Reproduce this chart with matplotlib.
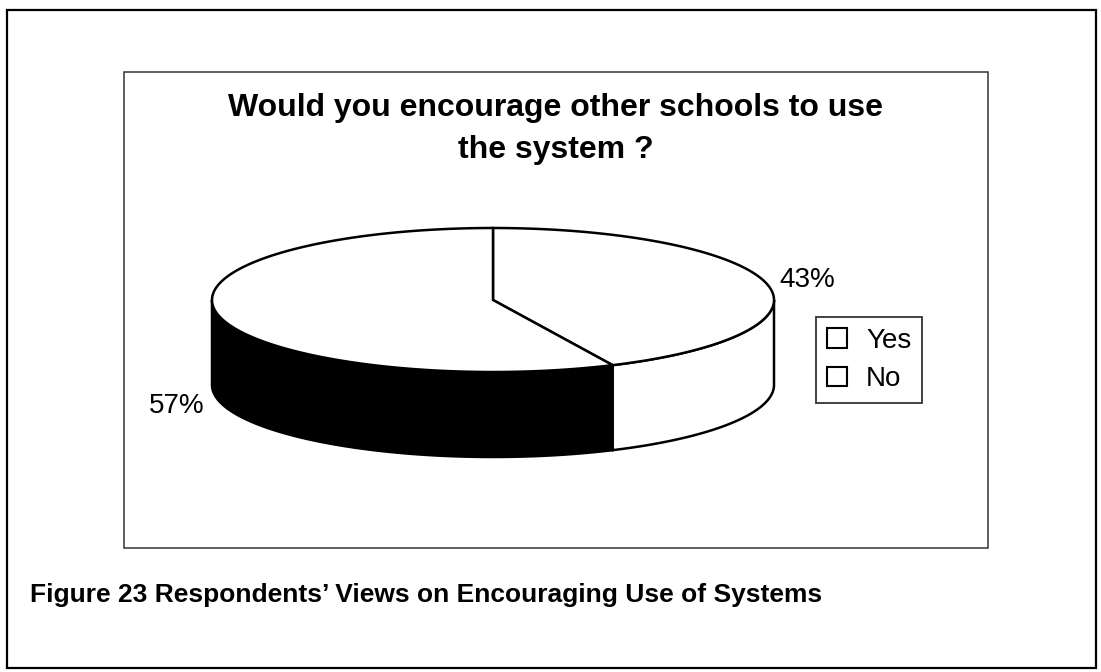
import numpy as np
import matplotlib.pyplot as plt
from matplotlib.patches import Polygon, Rectangle, Patch

plt.rcParams['font.family'] = ['Liberation Sans', 'DejaVu Sans']

# Survey answers
labels = ["Yes", "No"]
values = [43, 57]
side_colors = ["white", "black"]

title = "Would you encourage other schools to use\nthe system ?"
caption = "Figure 23 Respondents\u2019 Views on Encouraging Use of Systems"

fig = plt.figure(figsize=(11.01, 6.72), dpi=100)
ax = fig.add_axes([0, 0, 1, 1])
ax.set_xlim(0, 1101)
ax.set_ylim(672, 0)
ax.axis("off")

# page frame and chart area
ax.add_patch(Rectangle((7, 10), 1089, 658, fill=False, ec="black", lw=1.6))
ax.add_patch(Rectangle((124, 72), 864, 476, fill=False, ec="#444444", lw=1.2))

# 3d pie geometry
cx, cy = 493, 300
a, b = 281, 72
depth = 85


def ell(t):
    t = np.radians(t)
    return cx + a * np.cos(t), cy - b * np.sin(t)


fracs = np.array(values) / np.sum(values)
starts = 90 - 360 * np.concatenate([[0], np.cumsum(fracs)[:-1]])
ends = starts - 360 * fracs

# side walls, only the front half (-180..0) is visible
for s, e, col in zip(starts, ends, side_colors):
    lo, hi = max(e, -180), min(s, 0)
    if lo >= hi:
        lo, hi = max(e + 360, -180), min(s + 360, 0)
    if lo >= hi:
        continue
    t = np.linspace(hi, lo, 120)
    xs, ys = ell(t)
    pts = np.column_stack([np.r_[xs, xs[::-1]], np.r_[ys, ys[::-1] + depth]])
    ax.add_patch(Polygon(pts, closed=True, fc=col, ec="black", lw=1.8))

# top faces
for s, e in zip(starts, ends):
    t = np.linspace(s, e, 200)
    xs, ys = ell(t)
    pts = np.column_stack([np.r_[cx, xs], np.r_[cy, ys]])
    ax.add_patch(Polygon(pts, closed=True, fc="white", ec="black", lw=1.8))

# percentage labels
label_pos = [(807, 287), (177, 413)]
for v, (lx, ly) in zip(values, label_pos):
    ax.text(lx, ly, f"{v}%", fontsize=20, ha="center", va="baseline")

ax.text(556, 129, title, fontsize=23, fontweight="bold", ha="center",
        va="center", linespacing=1.55)

handles = [Patch(facecolor="white", edgecolor="black", lw=1.5) for _ in labels]
leg = ax.legend(handles, labels, loc="center left", bbox_to_anchor=(816, 360),
                bbox_transform=ax.transData, fontsize=20, fancybox=False,
                handlelength=0.7, handleheight=0.7, handletextpad=0.7,
                borderpad=0.4, labelspacing=0.45, borderaxespad=0)
leg.get_frame().set_edgecolor("black")
leg.get_frame().set_linewidth(1.3)

ax.text(30, 602, caption, fontsize=19, fontweight="bold", ha="left",
        va="baseline")

fig.savefig("out.png", dpi=100)
